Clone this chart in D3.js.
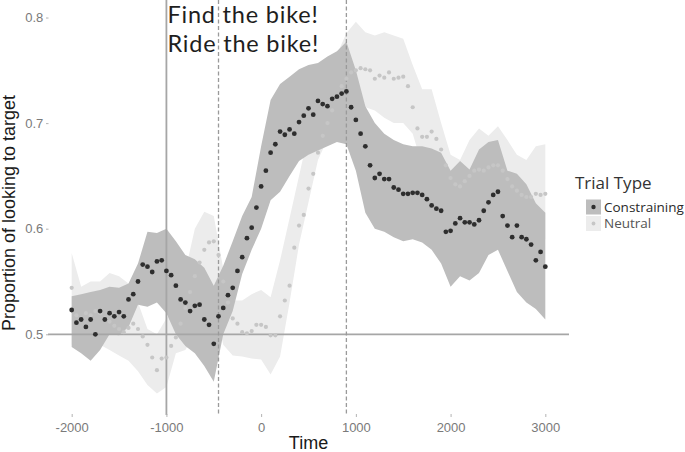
<!DOCTYPE html>
<html>
<head>
<meta charset="utf-8">
<script src="https://cdn.jsdelivr.net/npm/d3@7"></script>
<style>
  body { margin: 0; background: #fff; }
  svg { display: block; }
</style>
</head>
<body>
<div id="chart"></div>
<script>
// Time grids (ms): points every 50 ms, ribbons every 100 ms
const pointTimes = d3.range(-2000, 3001, 50);
const bandTimes = d3.range(-2000, 3001, 100);

// Mean proportion of looking to target
const constrainingMean = [
  0.523, 0.511, 0.514, 0.507, 0.514, 0.500, 0.522, 0.514, 0.520, 0.517,
  0.521, 0.517, 0.533, 0.538, 0.550, 0.566, 0.564, 0.559, 0.569, 0.570,
  0.560, 0.556, 0.546, 0.533, 0.530, 0.522, 0.527, 0.528, 0.514, 0.509,
  0.491, 0.517, 0.525, 0.537, 0.544, 0.560, 0.573, 0.591, 0.601, 0.620,
  0.640, 0.655, 0.672, 0.680, 0.692, 0.689, 0.694, 0.690, 0.701, 0.707,
  0.714, 0.708, 0.721, 0.718, 0.716, 0.723, 0.725, 0.728, 0.730, 0.715,
  0.703, 0.690, 0.678, 0.660, 0.648, 0.652, 0.647, 0.647, 0.639, 0.637,
  0.633, 0.633, 0.634, 0.634, 0.632, 0.628, 0.622, 0.619, 0.617, 0.597,
  0.598, 0.605, 0.610, 0.606, 0.606, 0.604, 0.608, 0.617, 0.625, 0.632,
  0.635, 0.612, 0.603, 0.592, 0.603, 0.592, 0.590, 0.585, 0.570, 0.578,
  0.564
];
const neutralMean = [
  0.544, 0.518, 0.515, 0.520, 0.518, 0.522, 0.520, 0.515, 0.512, 0.508,
  0.505, 0.502, 0.506, 0.510, 0.505, 0.498, 0.490, 0.478, 0.466, 0.477,
  0.478, 0.489, 0.497, 0.510, 0.525, 0.540, 0.555, 0.568, 0.580, 0.587,
  0.588, 0.575, 0.550, 0.530, 0.515, 0.510, 0.502, 0.501, 0.503, 0.509,
  0.509, 0.507, 0.499, 0.499, 0.517, 0.532, 0.546, 0.582, 0.603, 0.613,
  0.638, 0.652, 0.672, 0.688, 0.700, 0.712, 0.725, 0.735, 0.742, 0.748,
  0.750, 0.752, 0.751, 0.750, 0.742, 0.745, 0.743, 0.748, 0.742, 0.743,
  0.744, 0.735, 0.715, 0.695, 0.687, 0.687, 0.692, 0.685, 0.675, 0.660,
  0.648, 0.642, 0.640, 0.645, 0.650, 0.655, 0.656, 0.655, 0.658, 0.660,
  0.660, 0.655, 0.647, 0.640, 0.636, 0.632, 0.630, 0.630, 0.633, 0.632,
  0.633
];

// Confidence ribbons
const constrainingUpper = [
  0.536, 0.538, 0.540, 0.542, 0.545, 0.544, 0.548, 0.567, 0.597, 0.596,
  0.600, 0.588, 0.575, 0.571, 0.563, 0.546, 0.565, 0.588, 0.612, 0.630,
  0.678, 0.722, 0.737, 0.744, 0.751, 0.755, 0.757, 0.763, 0.768, 0.777,
  0.750, 0.716, 0.700, 0.690, 0.684, 0.680, 0.678, 0.678, 0.676, 0.672,
  0.655, 0.664, 0.656, 0.675, 0.682, 0.684, 0.655, 0.652, 0.642, 0.624,
  0.615
];
const constrainingLower = [
  0.488, 0.482, 0.475, 0.485, 0.500, 0.499, 0.507, 0.528, 0.526, 0.530,
  0.520, 0.500, 0.489, 0.482, 0.470, 0.455, 0.500, 0.522, 0.557, 0.580,
  0.600, 0.627, 0.635, 0.650, 0.664, 0.670, 0.674, 0.678, 0.682, 0.680,
  0.655, 0.615, 0.600, 0.597, 0.592, 0.588, 0.590, 0.587, 0.580, 0.567,
  0.545, 0.555, 0.551, 0.558, 0.575, 0.580, 0.560, 0.540, 0.530, 0.524,
  0.514
];
const neutralUpper = [
  0.577, 0.545, 0.550, 0.550, 0.558, 0.555, 0.548, 0.530, 0.505, 0.500,
  0.515, 0.530, 0.560, 0.600, 0.616, 0.612, 0.562, 0.532, 0.532, 0.538,
  0.542, 0.535, 0.570, 0.610, 0.650, 0.690, 0.720, 0.740, 0.765, 0.785,
  0.796, 0.786, 0.783, 0.786, 0.783, 0.780, 0.755, 0.732, 0.732, 0.700,
  0.670, 0.665, 0.684, 0.695, 0.688, 0.697, 0.684, 0.670, 0.665, 0.678,
  0.680
];
const neutralLower = [
  0.490, 0.490, 0.490, 0.490, 0.485, 0.480, 0.475, 0.465, 0.452, 0.444,
  0.450, 0.482, 0.485, 0.500, 0.530, 0.530, 0.490, 0.480, 0.479, 0.477,
  0.476, 0.462, 0.479, 0.530, 0.585, 0.625, 0.665, 0.685, 0.700, 0.710,
  0.715, 0.715, 0.712, 0.705, 0.700, 0.700, 0.690, 0.660, 0.645, 0.630,
  0.620, 0.615, 0.620, 0.620, 0.625, 0.625, 0.610, 0.600, 0.595, 0.590,
  0.590
];

const xTicks = [-2000, -1000, 0, 1000, 2000, 3000];
const yTicks = [0.5, 0.6, 0.7, 0.8];
const solidLineTimes = [-1000];
const dashedLineTimes = [-450, 900];
const referenceLevel = 0.5;
const seriesNames = ["Constraining", "Neutral"];
const annotationLines = ["Find the bike!", "Ride the bike!"];

const width = 685, height = 452;
const panel = {left: 48, right: 569, top: 0, bottom: 414};

const svg = d3.select("#chart").append("svg")
    .attr("width", width)
    .attr("height", height);

const x = d3.scaleLinear().domain([-2250, 3250]).range([panel.left, panel.right]);
const y = d3.scaleLinear().domain([0.4245, 0.8166]).range([panel.bottom, panel.top]);

const colors = {
  Constraining: {band: "#bdbdbd", point: "#2e2e2e"},
  Neutral: {band: "#ececec", point: "#c6c6c6"}
};

// Build band rows
const bands = {
  Neutral: bandTimes.map((t, i) => ({t: t, lo: neutralLower[i], hi: neutralUpper[i]})),
  Constraining: bandTimes.map((t, i) => ({t: t, lo: constrainingLower[i], hi: constrainingUpper[i]}))
};
const points = {
  Neutral: pointTimes.map((t, i) => ({t: t, v: neutralMean[i]})),
  Constraining: pointTimes.map((t, i) => ({t: t, v: constrainingMean[i]}))
};

const area = d3.area()
    .x(d => x(d.t))
    .y0(d => y(d.lo))
    .y1(d => y(d.hi));

// Ribbons: neutral below, constraining on top
["Neutral", "Constraining"].forEach(name => {
  svg.append("path")
      .datum(bands[name])
      .attr("d", area)
      .attr("fill", colors[name].band);
});

// Reference lines
svg.append("line")
    .attr("x1", panel.left).attr("x2", panel.right)
    .attr("y1", y(referenceLevel)).attr("y2", y(referenceLevel))
    .attr("stroke", "#a6a6a6").attr("stroke-width", 1.8);

svg.selectAll(".vsolid").data(solidLineTimes).enter().append("line")
    .attr("x1", d => x(d)).attr("x2", d => x(d))
    .attr("y1", panel.top).attr("y2", panel.bottom + 1)
    .attr("stroke", "#a6a6a6").attr("stroke-width", 1.8);

svg.selectAll(".vdash").data(dashedLineTimes).enter().append("line")
    .attr("x1", d => x(d)).attr("x2", d => x(d))
    .attr("y1", panel.top).attr("y2", panel.bottom)
    .attr("stroke", "#9a9a9a").attr("stroke-width", 1.3)
    .attr("stroke-dasharray", "4,2.5");

// Points
["Neutral", "Constraining"].forEach(name => {
  svg.append("g").selectAll("circle")
      .data(points[name])
      .enter().append("circle")
      .attr("cx", d => x(d.t))
      .attr("cy", d => y(d.v))
      .attr("r", name === "Constraining" ? 2.4 : 2.1)
      .attr("fill", colors[name].point);
});

// Axes
const xAxis = svg.append("g")
    .attr("transform", `translate(0,${panel.bottom})`)
    .call(d3.axisBottom(x).tickValues(xTicks).tickSize(3).tickPadding(5.5).tickFormat(d3.format("d")));
const yAxis = svg.append("g")
    .attr("transform", `translate(${panel.left + 0.5},0)`)
    .call(d3.axisLeft(y).tickValues(yTicks).tickSize(2.5).tickPadding(2.7).tickFormat(d3.format(".1f")));

[xAxis, yAxis].forEach(g => {
  g.select(".domain").remove();
  g.selectAll(".tick line").attr("stroke", "#b3b3b3");
  g.selectAll(".tick text")
      .attr("fill", "#7a7a7a")
      .style("font-family", "'Liberation Sans', Arial, sans-serif")
      .style("font-size", "13px");
});
xAxis.selectAll(".tick text").text(d => d3.format("d")(d).replace("−", "-"));

// Axis titles
svg.append("text")
    .attr("x", (panel.left + panel.right) / 2)
    .attr("y", 449)
    .attr("text-anchor", "middle")
    .style("font-family", "'Liberation Sans', Arial, sans-serif")
    .style("font-size", "18px")
    .attr("fill", "#1a1a1a")
    .text("Time");

svg.append("text")
    .attr("transform", "translate(14.5,213) rotate(-90)")
    .attr("text-anchor", "middle")
    .style("font-family", "'Liberation Sans', Arial, sans-serif")
    .style("font-size", "18px")
    .attr("fill", "#1a1a1a")
    .text("Proportion of looking to target");

// Annotation (one text block, two lines)
const note = svg.append("text")
    .style("font-family", "Lato, sans-serif")
    .style("font-size", "23.5px")
    .style("letter-spacing", "0.8px")
    .attr("fill", "#1e1e1e");
note.selectAll("tspan").data(annotationLines).enter().append("tspan")
    .attr("x", x(solidLineTimes[0]) + 1)
    .attr("y", (d, i) => 23.4 + i * 28.4)
    .text(d => d);

// Legend
const legend = svg.append("g").attr("transform", "translate(575,0)");
legend.append("text")
    .attr("x", 0).attr("y", 188.5)
    .style("font-family", "'Open Sans', sans-serif")
    .style("font-size", "17px")
    .attr("fill", "#333")
    .text("Trial Type");

seriesNames.forEach((name, i) => {
  const top = 199.5 + i * 16.5;
  legend.append("rect")
      .attr("x", 11).attr("y", top)
      .attr("width", 15).attr("height", 15)
      .attr("fill", colors[name].band);
  legend.append("circle")
      .attr("cx", 18.5).attr("cy", top + 7.5)
      .attr("r", name === "Constraining" ? 2.2 : 1.9)
      .attr("fill", colors[name].point);
  legend.append("text")
      .attr("x", 29).attr("y", top + 12)
      .style("font-family", "'Open Sans', sans-serif")
      .style("font-size", "13.5px")
      .attr("fill", name === "Constraining" ? "#2a2a2a" : "#555")
      .text(name);
});
</script>
</body>
</html>
